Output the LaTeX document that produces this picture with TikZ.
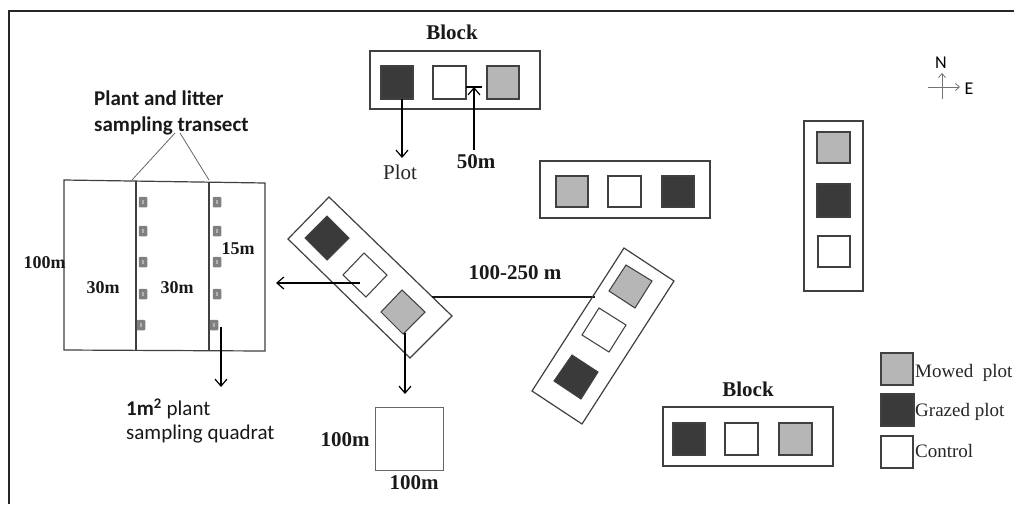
\documentclass[tikz,border=0pt]{standalone}
\usepackage{fontspec}
\setmainfont{Liberation Serif}
\newfontfamily\carl{Carlito}
\definecolor{dk}{HTML}{3A3A3A}
\definecolor{md}{HTML}{B6B6B6}
\definecolor{ln}{HTML}{404040}
\tikzset{
  blockbox/.style={draw=ln,line width=1.2pt,line join=miter},
  plotbox/.style={draw=ln,line width=1.05pt},
  mowed/.style={plotbox,fill=md},
  grazed/.style={plotbox,fill=dk},
  ctrl/.style={plotbox,fill=white},
  arr/.style={draw=black,line width=1.2pt,-{Straight Barb[length=7pt,width=12pt,line width=1.2pt]}},
  lbl/.style={font=\fontsize{21}{21}\selectfont\bfseries,inner sep=0pt,text=black!90},
  small/.style={font=\fontsize{18}{18}\selectfont\bfseries,inner sep=0pt,text=black!90},
  leg/.style={font=\fontsize{19}{19}\selectfont,inner sep=0pt,anchor=west,text=black!85},
  sans/.style={font=\carl\fontsize{21}{26}\selectfont,inner sep=0pt,text=black!90},
  quad/.style={draw=none,fill=black!50,rounded corners=1pt,minimum width=8.5pt,minimum height=10.5pt,inner sep=0pt}
}
\usetikzlibrary{arrows.meta}
\begin{document}
\begin{tikzpicture}[x=1pt,y=-1pt]
\useasboundingbox (0,0) rectangle (1014,504);
\fill[white] (0,0) rectangle (1014,504);
% frame
\coordinate (fa) at (9,504); \coordinate (fb) at (9,11); \coordinate (fc) at (1014,11);
\draw[line width=1.8pt,draw=black!85] (fa) -- (fb) -- (fc);
% field plot
\coordinate (tl) at (64,180); \coordinate (tr) at (265,183); \coordinate (br) at (265,351); \coordinate (bl) at (64,350);
\coordinate (m1t) at (136,181); \coordinate (m1b) at (136,351);
\coordinate (m2t) at (209,182); \coordinate (m2b) at (209,351);
\draw[blockbox] (tl) -- (tr) -- (br) -- (bl) -- cycle;
\draw[blockbox] (m1t) -- (m1b);
\draw[blockbox] (m2t) -- (m2b);
\foreach \n/\x/\y in {a1/143/202,a2/143/231,a3/143/262,a4/143/294,a5/141/325,b1/217/202,b2/217/231,b3/217/262,b4/217/294,b5/214/325}{
  \node[quad] (\n) at (\x,\y) {};
  \fill[black!30] (\x-1.4,\y-2) rectangle (\x+1.4,\y+2);
}
\node[sans,font=\carl\bfseries\fontsize{21}{26}\selectfont,align=left,anchor=north west] (title) at (94,91) {Plant and litter\\ sampling transect};
\coordinate (t1) at (175,133); \coordinate (t2) at (180,133);
\coordinate (t1e) at (132,180); \coordinate (t2e) at (209,180);
\draw[black!60,line width=.8pt] (t1) -- (t1e);
\draw[black!60,line width=.8pt] (t2) -- (t2e);
\node[small] (l100a) at (44.5,263) {100m};
\node[small] (l30a) at (103,288) {30m};
\node[small] (l30b) at (177,288) {30m};
\node[small] (l15) at (238,249) {15m};
\coordinate (qs) at (221,327); \coordinate (qe) at (221,387);
\draw[arr] (qs) -- (qe);
\node[sans,anchor=west] (q1) at (126,409) {\textbf{1m\textsuperscript{2}} plant};
\node[sans,anchor=west] (q2) at (126,434) {sampling quadrat};
% tilted block 1
\draw[blockbox] (329,197) -- (452,316) -- (410,358) -- (288,239) -- cycle;
\draw[grazed] (327,216) -- (349,238) -- (327,260) -- (305,238) -- cycle;
\draw[ctrl] (364,253) -- (387,275) -- (366,297) -- (343,275) -- cycle;
\draw[mowed] (402,290) -- (425,312) -- (403,334) -- (381,312) -- cycle;
\coordinate (w1) at (360,283); \coordinate (w2) at (276,283);
\draw[arr] (w1) -- (w2);
\coordinate (g1) at (405,333); \coordinate (g2) at (405,394);
\draw[arr] (g1) -- (g2);
% 100m square
\node[draw=black!60,line width=1pt,minimum width=68pt,minimum height=63pt,inner sep=0pt] (sq) at (409.5,439) {};
\node[lbl] (l100b) at (345,440) {100m};
\node[lbl] (l100c) at (414,483) {100m};
% connector
\coordinate (c1) at (432,297); \coordinate (c2) at (595,297);
\draw[line width=1.2pt,draw=black!90] (c1) -- (c2);
\node[lbl] (l100250) at (515,273) {100-250 m};
% tilted block 2
\draw[blockbox] (624,248) -- (674,281) -- (582,424) -- (532,391) -- cycle;
\draw[mowed] (626,265) -- (652,281) -- (635,308) -- (609,291) -- cycle;
\draw[ctrl] (599,308) -- (626,325) -- (609,352) -- (582,335) -- cycle;
\draw[grazed] (572,355) -- (598,372) -- (581,399) -- (554,381) -- cycle;
% top block
\draw[blockbox] (370,51) rectangle (540,109);
\draw[grazed] (381,66) rectangle (413,99);
\draw[ctrl] (433,66) rectangle (466,99);
\draw[mowed] (487,66) rectangle (519,99);
\node[lbl] (blk1) at (452,32) {Block};
\coordinate (p1) at (402,99); \coordinate (p2) at (402,158);
\draw[arr] (p1) -- (p2);
\node[font=\fontsize{21}{21}\selectfont,inner sep=0pt,text=black!85] (plot) at (400,172) {Plot};
\coordinate (f1) at (474,150); \coordinate (f2) at (474,87);
\draw[arr] (f1) -- (f2);
\coordinate (d1) at (466,87); \coordinate (d2) at (482,87);
\draw[line width=1.2pt] (d1) -- (d2);
\node[lbl] (l50) at (476,162) {50m};
% second block
\draw[blockbox] (540,161) rectangle (710,218);
\draw[mowed] (556,176) rectangle (588,207);
\draw[ctrl] (608,176) rectangle (641,207);
\draw[grazed] (662,176) rectangle (694,207);
% right block
\draw[blockbox] (804,121) rectangle (863,291);
\draw[mowed] (817,132) rectangle (850,163);
\draw[grazed] (817,184) rectangle (850,217);
\draw[ctrl] (818,236) rectangle (850,267);
% bottom block
\draw[blockbox] (663,407) rectangle (833,466);
\draw[grazed] (673,423) rectangle (705,455);
\draw[ctrl] (725,423) rectangle (758,455);
\draw[mowed] (779,423) rectangle (812,455);
\node[lbl] (blk2) at (748,389) {Block};
% compass
\coordinate (ew) at (928,87); \coordinate (ee) at (960,87);
\coordinate (ss) at (942,99); \coordinate (nn) at (942,73);
\draw[black!55,line width=.8pt,-{Straight Barb[length=4pt,width=7pt]}] (ew) -- (ee);
\draw[black!55,line width=.8pt,-{Straight Barb[length=4pt,width=7pt]}] (ss) -- (nn);
\node[font=\carl\fontsize{18}{18}\selectfont,inner sep=0pt] (nl) at (941,63) {N};
\node[font=\carl\fontsize{18}{18}\selectfont,inner sep=0pt] (el) at (969,89) {E};
% legend
\draw[mowed] (881,353) rectangle (913,385);
\draw[grazed] (881,394) rectangle (914,426);
\draw[ctrl] (881,436) rectangle (913,468);
\node[leg] (lm) at (915,373) {Mowed\ \ plot};
\node[leg] (lg) at (915,412) {Grazed plot};
\node[leg] (lc) at (915,451) {Control};
\end{tikzpicture}
\end{document}
